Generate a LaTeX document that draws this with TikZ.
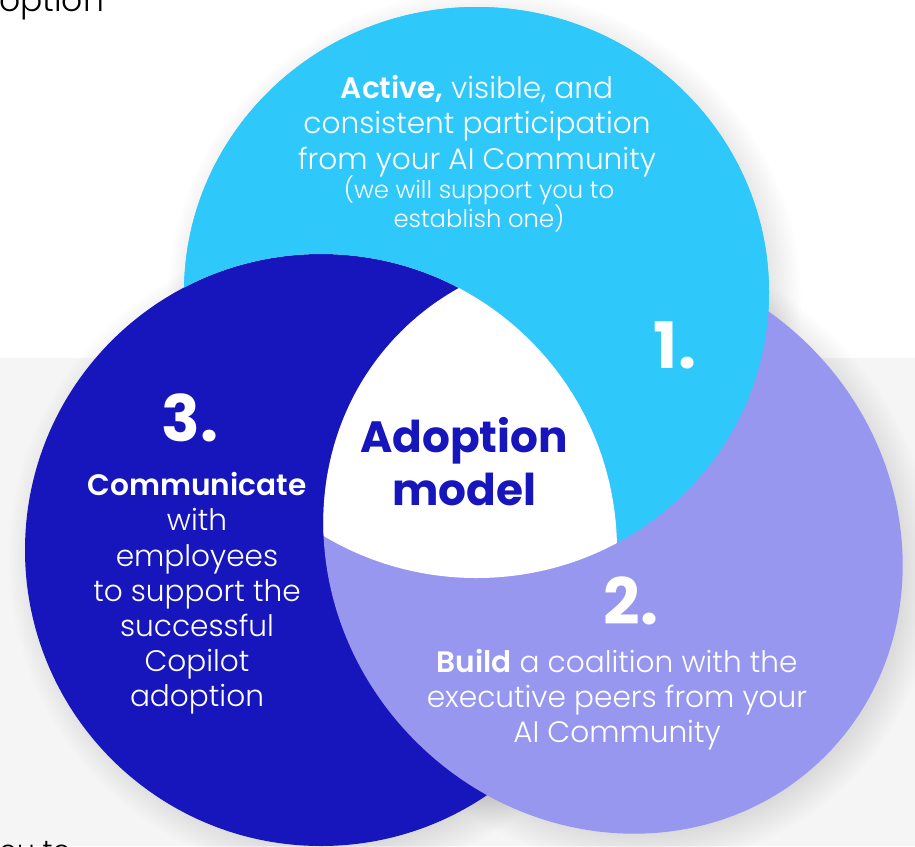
\documentclass[tikz,border=0pt]{standalone}
\usepackage{fontspec}
\setmainfont{Poppins Light}[BoldFont={Poppins SemiBold}]
\newfontfamily\heavyf{Poppins Bold}
\definecolor{cyanc}{HTML}{2EC8FA}
\definecolor{darkc}{HTML}{1616BC}
\definecolor{lavc}{HTML}{9797F0}
\definecolor{bgc}{HTML}{F5F5F5}
\newcommand{\EA}{(476.5,292.5) ellipse [x radius=292.5pt,y radius=285.5pt]}
\newcommand{\EB}{(613,544) ellipse [x radius=300pt,y radius=279pt,rotate=-45]}
\newcommand{\EC}{(321,550) ellipse [x radius=296pt,y radius=296pt]}
\newcommand{\FS}[2]{\fontsize{#1}{#2}\selectfont}
\tikzset{
  body/.style={text=white,align=center,inner sep=0pt,font=\FS{29.6}{35.2}},
  smalltext/.style={text=white,align=center,inner sep=0pt,font=\FS{24.3}{29}},
  numeral/.style={text=white,inner sep=0pt,font=\heavyf\FS{64}{64}},
  title/.style={text=darkc,align=center,inner sep=0pt,font=\heavyf\FS{43.8}{53}},
  backtext/.style={text=black,inner sep=0pt},
}
\begin{document}
\begin{tikzpicture}[x=1pt,y=-1pt]
\clip (0,0) rectangle (915,846);
\fill[white] (0,0) rectangle (915,846);
\fill[bgc] (0,358) rectangle (915,846);
\node[backtext,anchor=base west,font=\FS{33}{35}] (topword) at (-1,11) {option};
\node[backtext,anchor=base west,font=\FS{28}{35}] (botword) at (-1,860) {ou to};
% soft shadows
\foreach \i in {0,...,14}{
  \pgfmathsetmacro{\g}{24-2.6*\i}
  \fill[black,opacity=0.007] (484.5,300.5) ellipse [x radius=292.5pt+\g pt,y radius=285.5pt+\g pt];
  \fill[black,opacity=0.007] (621,552) ellipse [x radius=300pt+\g pt,y radius=279pt+\g pt,rotate=-45];
  \fill[black,opacity=0.007] (329,558) ellipse [x radius=296pt+\g pt,y radius=296pt+\g pt];
}
% the three discs
\fill[cyanc] \EA;
\begin{scope}
  \clip \EA;
  \draw[white!90!black,line width=2pt] \EC;
\end{scope}
\fill[darkc] \EC;
\fill[lavc] \EB;
% cyan over lavender, outside the dark disc
\begin{scope}[even odd rule]
  \clip (-50,-50) rectangle (1000,1000) \EC;
  \fill[cyanc] \EA;
\end{scope}
% central white lens
\begin{scope}
  \clip \EA;
  \clip \EB;
  \fill[white] \EC;
\end{scope}
\node[body] (one) at (477,126) {\textbf{Active,} visible, and\\consistent participation\\from your AI Community};
\node[smalltext] (onesmall) at (479,204) {(we will support you to\\establish one)};
\node[numeral] (num1) at (675,345) {1.};
\node[numeral] (num2) at (631,601) {2.};
\node[numeral] (num3) at (190,418) {3.};
\node[title] (model) at (464,462) {Adoption\\model};
\node[body] (two) at (617,699.5) {\textbf{Build} a coalition with the\\executive peers from your\\AI Community};
\node[body] (three) at (197,593.5) {\textbf{Communicate}\\with\\employees\\to support the\\successful\\Copilot\\adoption};
\end{tikzpicture}
\end{document}
